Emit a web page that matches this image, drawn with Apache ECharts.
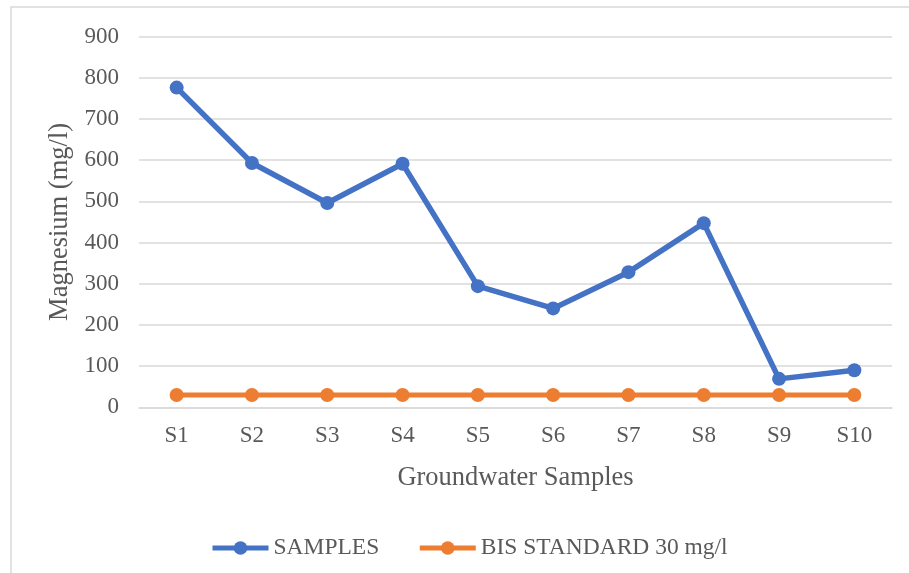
<!DOCTYPE html>
<html>
<head>
<meta charset="utf-8">
<script src="https://cdn.jsdelivr.net/npm/echarts@6/dist/echarts.min.js"></script>
<style>
  html, body { margin: 0; padding: 0; background: #ffffff; }
  #chart { width: 909px; height: 573px; }
</style>
</head>
<body>
<div id="chart"></div>
<script>
// Magnesium concentration in groundwater samples vs. BIS standard
const categories = ['S1', 'S2', 'S3', 'S4', 'S5', 'S6', 'S7', 'S8', 'S9', 'S10'];
const samples = [776, 593, 496, 591, 294, 240, 328, 447, 69, 90];
const bisStandard = [30, 30, 30, 30, 30, 30, 30, 30, 30, 30];
const yTicks = { min: 0, max: 900, interval: 100 };

const serif = '"Liberation Serif", "Times New Roman", serif';
const textColor = '#595959';
const gridColor = '#d9d9d9';

const chart = echarts.init(document.getElementById('chart'));
chart.setOption({
  backgroundColor: '#ffffff',
  animation: false,
  graphic: [{
    type: 'rect',
    shape: { x: 11, y: 7, width: 1000, height: 1000 },
    style: { fill: 'none', stroke: gridColor, lineWidth: 1.5 },
    silent: true
  }],
  grid: { left: 139, right: 17, top: 36.5, bottom: 165.7 },
  legend: {
    left: 205,
    top: 531,
    itemWidth: 56,
    itemHeight: 17,
    itemGap: 38,
    lineStyle: { width: 5 },
    textStyle: { fontFamily: serif, fontSize: 23.5, color: textColor },
    data: ['SAMPLES', 'BIS STANDARD 30 mg/l']
  },
  xAxis: {
    type: 'category',
    data: categories,
    boundaryGap: true,
    name: 'Groundwater Samples',
    nameLocation: 'middle',
    nameGap: 57,
    nameTextStyle: { fontFamily: serif, fontSize: 26.5, color: textColor },
    axisLine: { show: true, lineStyle: { color: gridColor, width: 1.5 } },
    axisTick: { show: false },
    axisLabel: { fontFamily: serif, fontSize: 23, color: textColor, margin: 17 }
  },
  yAxis: {
    type: 'value',
    min: yTicks.min,
    max: yTicks.max,
    interval: yTicks.interval,
    name: 'Magnesium (mg/l)',
    nameLocation: 'middle',
    nameGap: 62,
    nameTextStyle: { fontFamily: serif, fontSize: 26.5, color: textColor },
    axisLine: { show: false },
    axisTick: { show: false },
    axisLabel: { fontFamily: serif, fontSize: 23, color: textColor, margin: 20 },
    splitLine: { lineStyle: { color: gridColor, width: 1.5 } }
  },
  series: [
    {
      name: 'SAMPLES',
      type: 'line',
      data: samples,
      symbol: 'circle',
      symbolSize: 14,
      color: '#4472C4',
      lineStyle: { width: 5.5, color: '#4472C4' },
      itemStyle: { color: '#4472C4' },
      z: 3
    },
    {
      name: 'BIS STANDARD 30 mg/l',
      type: 'line',
      data: bisStandard,
      symbol: 'circle',
      symbolSize: 14,
      color: '#ED7D31',
      lineStyle: { width: 5, color: '#ED7D31' },
      itemStyle: { color: '#ED7D31' },
      z: 2
    }
  ]
});
</script>
</body>
</html>
